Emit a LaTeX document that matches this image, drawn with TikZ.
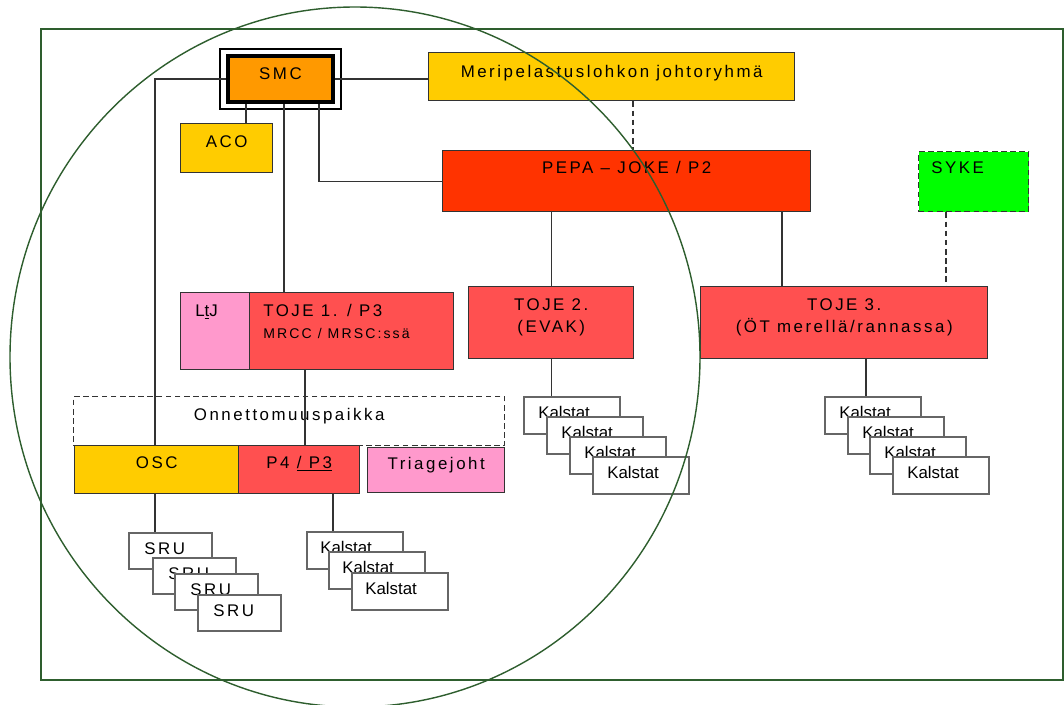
\documentclass[tikz,border=0pt]{standalone}
\usepackage{fontspec}
\setmainfont{Liberation Sans}
\newfontfamily\spaced{Liberation Sans}[LetterSpace=15]
\usepackage{xcolor}
\usepackage{tikz}

\definecolor{smcorange}{HTML}{FF9900}
\definecolor{yel}{HTML}{FFCC00}
\definecolor{pepared}{HTML}{FF3300}
\definecolor{tojered}{HTML}{FF5050}
\definecolor{pink}{HTML}{FF99CC}
\definecolor{sykegreen}{HTML}{00FF00}
\definecolor{frame}{HTML}{2E5E2E}

\tikzset{
	box/.style={draw=black!80, line width=1pt, anchor=north west, inner sep=0pt},
	wh/.style 2 args={minimum width=#1*0.025cm, minimum height=#2*0.025cm},
	small/.style={draw=black!60, line width=1.2pt, fill=white, anchor=north west, inner sep=0pt, minimum width=96*0.025cm, minimum height=37*0.025cm},
	txt/.style={anchor=base, inner sep=0pt, font=\spaced\fontsize{12}{14}\selectfont},
	ltxt/.style={txt, anchor=base west},
	stxt/.style={anchor=base west, inner sep=0pt, font=\fontsize{12}{14}\selectfont},
	conn/.style={draw=black!80, line width=1pt},
	dsh/.style={dash pattern=on 4pt off 2.5pt}
}

\begin{document}
\begin{tikzpicture}[x=0.025cm, y=-0.025cm]

	\useasboundingbox (0,0) rectangle (1064,704);
	\draw[frame, line width=1pt] (41,29) rectangle (1063,680);

	\node[box, wh={105}{46}, fill=smcorange, draw=black, line width=2.8pt] (smc) at (226,54) {};
	\draw[line width=0.8pt] ([shift={(-6,-5)}]smc.north west) rectangle ([shift={(6,5)}]smc.south east);
	\node[txt] (smct) at ([shift={(0,25)}]smc.north) {SMC};

	\node[box, wh={366}{48}, fill=yel] (meri) at (428,52) {};
	\node[txt] (merit) at ([shift={(0,25)}]meri.north) {Meripelastuslohkon johtoryhmä};

	\node[box, wh={92}{49}, fill=yel] (aco) at (180,123) {};
	\node[txt] (acot) at ([shift={(0,24)}]aco.north) {ACO};

	\node[box, wh={368}{61}, fill=pepared] (pepa) at (442,150) {};
	\node[txt] (pepat) at ([shift={(0,23)}]pepa.north) {PEPA – JOKE / P2};

	\node[box, wh={110}{60}, fill=sykegreen, dsh] (syke) at (918,151) {};
	\node[ltxt] (syket) at ([shift={(13,22)}]syke.north west) {SYKE};

	\node[box, wh={69}{77}, fill=pink] (ltj) at (180,292) {};
	\node[ltxt] (ltjt) at ([shift={(15,24)}]ltj.north west) {L\underline{t}J};
	\node[box, wh={204}{77}, fill=tojered] (toje1) at (249,292) {};
	\node[ltxt] (toje1a) at ([shift={(14,24)}]toje1.north west) {TOJE 1. / P3};
	\node[ltxt, font=\spaced\fontsize{10}{12}\selectfont] (toje1b) at ([shift={(14,46)}]toje1.north west) {MRCC / MRSC:ssä};

	\node[box, wh={165}{72}, fill=tojered] (toje2) at (468,286) {};
	\node[txt] (toje2a) at ([shift={(0,24)}]toje2.north) {TOJE 2.};
	\node[txt] (toje2b) at ([shift={(0,46)}]toje2.north) {(EVAK)};

	\node[box, wh={287}{72}, fill=tojered] (toje3) at (700,286) {};
	\node[txt] (toje3a) at ([shift={(0,24)}]toje3.north) {TOJE 3.};
	\node[txt] (toje3b) at ([shift={(0,46)}]toje3.north) {(ÖT merellä/rannassa)};

	\node[box, wh={431}{49}, dsh] (onn) at (73,396) {};
	\node[txt] (onnt) at ([shift={(0,24)}]onn.north) {Onnettomuuspaikka};

	\node[box, wh={164}{48}, fill=yel] (osc) at (74,445) {};
	\node[txt] (osct) at ([shift={(0,23)}]osc.north) {OSC};
	\node[box, wh={121}{48}, fill=tojered] (p4) at (238,445) {};
	\node[txt] (p4t) at ([shift={(0,23)}]p4.north) {P4 \underline{/ P3}};
	\node[box, wh={137}{45}, fill=pink] (tri) at (367,447) {};
	\node[txt] (trit) at ([shift={(0,22)}]tri.north) {Triagejoht};

	% pinot
	\foreach \i/\x/\y in {1/128/532, 2/152/557, 3/174/573, 4/197/594}{
		\node[small, minimum width=83*0.025cm, minimum height=36*0.025cm] (sru\i) at (\x,\y) {};
		\node[stxt, font=\spaced\fontsize{12}{14}\selectfont] (srut\i) at ([shift={(16,22)}]sru\i.north west) {SRU};
	}
	\foreach \i/\x/\y in {1/306/531, 2/328/551, 3/351/572}{
		\node[small] (ka\i) at (\x,\y) {};
		\node[stxt] (kat\i) at ([shift={(14,22)}]ka\i.north west) {Kalstat};
	}
	\foreach \i/\x/\y in {1/523/396, 2/546/416, 3/569/436, 4/592/456}{
		\node[small] (kb\i) at (\x,\y) {};
		\node[stxt] (kbt\i) at ([shift={(15,22)}]kb\i.north west) {Kalstat};
	}
	\foreach \i/\x/\y in {1/824/396, 2/847/416, 3/869/436, 4/892/456}{
		\node[small] (kc\i) at (\x,\y) {};
		\node[stxt] (kct\i) at ([shift={(15,22)}]kc\i.north west) {Kalstat};
	}

	\draw[conn] (smc.west) -| (osc.north -| 155,0);
	\draw[conn] (smc.east) -- (smc.east -| meri.west);
	\draw[conn] (246,0 |- smc.south) -- (246,0 |- aco.north);
	\draw[conn] (284,0 |- smc.south) -- (284,0 |- toje1.north);
	\draw[conn] (319,0 |- smc.south) |- (pepa.west);
	\draw[conn, dsh] (633,0 |- meri.south) -- (633,0 |- pepa.north);
	\draw[conn] (toje2.north |- pepa.south) -- (toje2.north);
	\draw[conn] (782,0 |- pepa.south) -- (782,0 |- toje3.north);
	\draw[conn, dsh] (946,0 |- syke.south) -- (946,0 |- toje3.north);
	\draw[conn] (toje2.south) -- (toje2.south |- kb1.north);
	\draw[conn] (866,0 |- toje3.south) -- (866,0 |- kc1.north);
	\draw[conn] (305,0 |- toje1.south) -- (305,0 |- p4.north);
	\draw[conn] (155,0 |- osc.south) -- (155,0 |- sru1.north);
	\draw[conn] (333,0 |- p4.south) -- (333,0 |- ka1.north);

	\draw[frame, line width=1pt] (355,357) ellipse (345 and 350);

\end{tikzpicture}
\end{document}
